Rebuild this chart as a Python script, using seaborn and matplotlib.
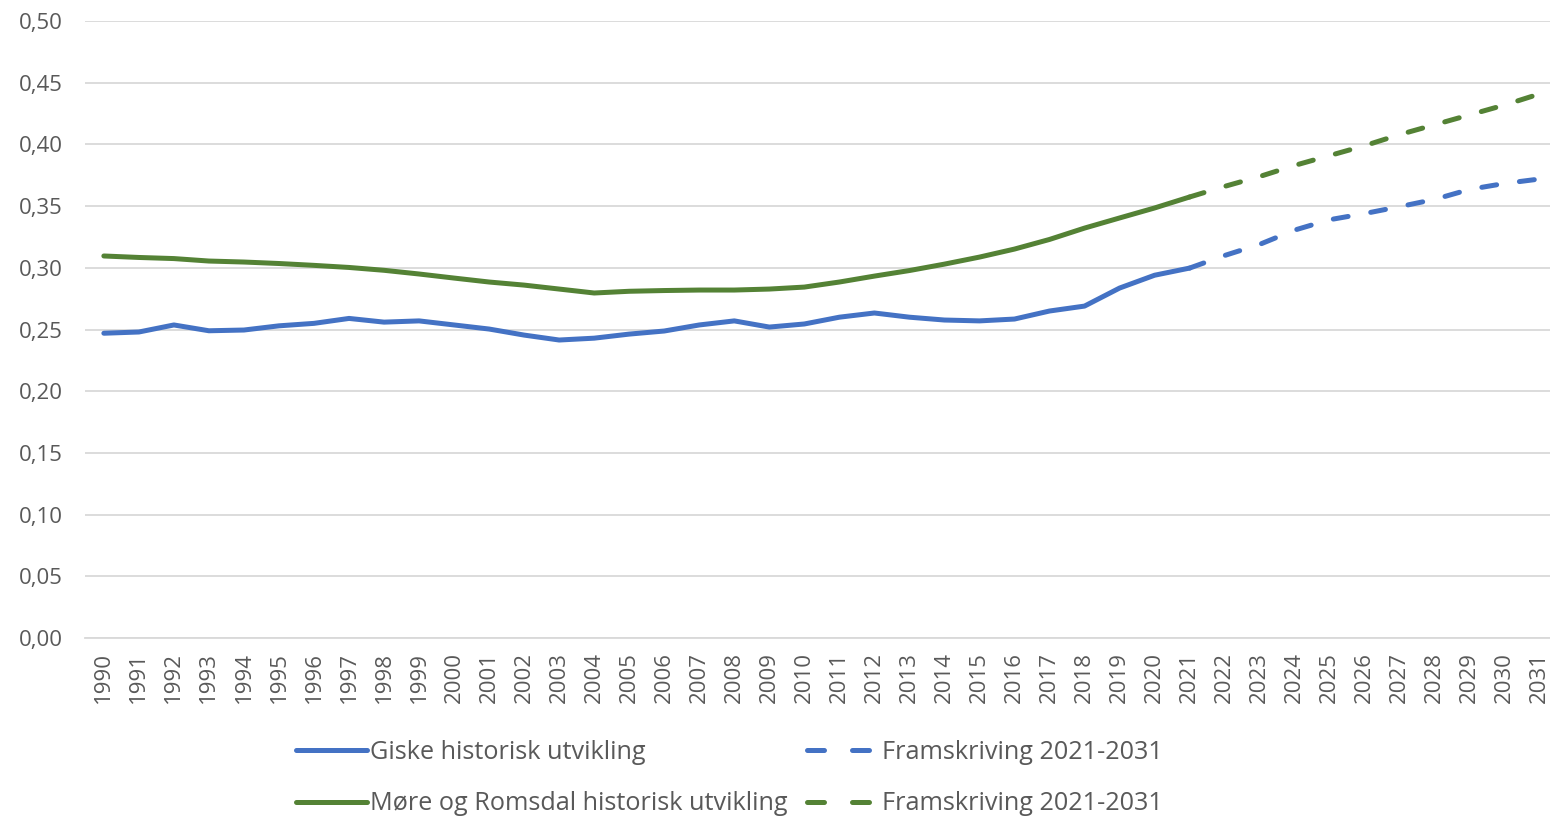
import matplotlib
matplotlib.use("Agg")
import matplotlib.pyplot as plt
import seaborn as sns
from matplotlib.ticker import FuncFormatter, MultipleLocator

# data lest av figuren
aar_hist = list(range(1990, 2022))
aar_fram = list(range(2021, 2032))

giske_hist = [0.247, 0.248, 0.2537, 0.249, 0.2496, 0.253, 0.255, 0.259, 0.256, 0.257,
              0.2537, 0.2504, 0.2455, 0.2415, 0.243, 0.2463, 0.2488, 0.2537, 0.257, 0.252,
              0.2545, 0.260, 0.2634, 0.260, 0.2577, 0.257, 0.2585, 0.265, 0.269, 0.2836,
              0.294, 0.2998]
giske_fram = [0.2998, 0.310, 0.319, 0.3306, 0.339, 0.344, 0.3496, 0.3555, 0.3636, 0.3684, 0.372]

mr_hist = [0.3096, 0.3084, 0.3075, 0.3055, 0.3047, 0.3035, 0.302, 0.3003, 0.298, 0.295,
           0.2917, 0.2885, 0.286, 0.2828, 0.2796, 0.281, 0.2816, 0.282, 0.282, 0.2828,
           0.2844, 0.2885, 0.2933, 0.2978, 0.303, 0.3087, 0.3152, 0.323, 0.3322, 0.3404,
           0.3485, 0.3574]
mr_fram = [0.3574, 0.366, 0.374, 0.383, 0.391, 0.399, 0.408, 0.416, 0.424, 0.432, 0.441]

blaa = "#4472C4"
gronn = "#548235"
tekst = "#595959"

sns.set_style("white")
plt.rcParams['font.family'] = ['Open Sans', 'DejaVu Sans']

fig = plt.figure(figsize=(15.5, 8.18), dpi=100)
ax = fig.add_axes([0.0548, 0.22, 0.9452, 0.7543])

lw = 3.6
sns.lineplot(x=aar_hist, y=giske_hist, color=blaa, lw=lw, ax=ax,
             label="Giske historisk utvikling")
sns.lineplot(x=aar_hist, y=mr_hist, color=gronn, lw=lw, ax=ax,
             label="Møre og Romsdal historisk utvikling")
sns.lineplot(x=aar_fram, y=giske_fram, color=blaa, lw=lw, ax=ax,
             label="Framskriving 2021-2031")
sns.lineplot(x=aar_fram, y=mr_fram, color=gronn, lw=lw, ax=ax,
             label="Framskriving 2021-2031")
lines = ax.get_lines()
for ln in lines[2:4]:
    ln.set_dashes((3.0, 4.6))
    ln.set_dash_capstyle("round")
for ln in lines:
    ln.set_solid_capstyle("round")

ax.set_xlim(1989.46, 2031.29)
ax.set_ylim(0, 0.5)
ax.yaxis.set_major_locator(MultipleLocator(0.05))
ax.yaxis.set_major_formatter(FuncFormatter(lambda v, p: f"{v:.2f}".replace(".", ",")))
ax.set_xticks(list(range(1990, 2032)))
ax.set_xticklabels([str(a) for a in range(1990, 2032)], rotation=90)
ax.grid(axis="y", color="#d9d9d9", lw=1.3)
ax.set_axisbelow(True)
for s in ["top", "right", "left"]:
    ax.spines[s].set_visible(False)
ax.spines["bottom"].set_color("#d9d9d9")
ax.spines["bottom"].set_linewidth(1.3)
ax.tick_params(axis="both", length=0, labelsize=16, labelcolor=tekst)
ax.tick_params(axis="x", pad=10)
ax.tick_params(axis="y", pad=16)

h, l = ax.get_legend_handles_labels()
leg = ax.legend(h, l, ncol=2, frameon=False, fontsize=18.2, labelcolor=tekst,
                loc="upper left", bbox_to_anchor=(0.144, -0.165), bbox_transform=ax.transAxes,
                handlelength=2.8, handletextpad=0.15, columnspacing=0.75, labelspacing=1.05,
                borderaxespad=0, borderpad=0)
for ln in leg.get_lines()[2:4]:
    ln.set_dashes((3.4, 5.6))
    ln.set_dash_capstyle("round")

fig.savefig("out.png", dpi=100)
